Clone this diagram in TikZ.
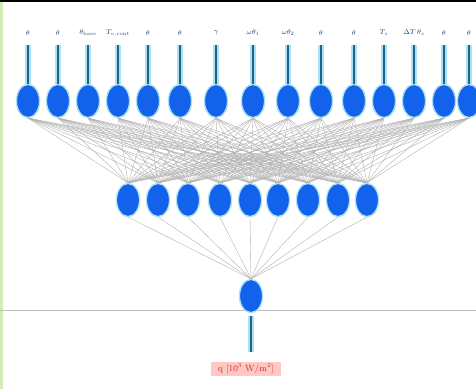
\documentclass[tikz,border=0pt]{standalone}
\usetikzlibrary{shapes.geometric}
\definecolor{nodeblue}{RGB}{18,98,235}
\definecolor{glow}{RGB}{170,225,245}
\definecolor{stem}{RGB}{30,100,140}
\definecolor{outred}{RGB}{210,40,40}
\definecolor{outbg}{RGB}{255,200,195}
\tikzset{
  neuron/.style={ellipse,fill=nodeblue,draw=glow,line width=1.2pt,minimum width=23pt,minimum height=33pt,inner sep=0pt},
  link/.style={draw=gray!60,line width=0.4pt},
  stemhalo/.style={draw=glow,line width=6pt},
  stemline/.style={draw=stem,line width=2.6pt},
  lbl/.style={font=\fontsize{7.5}{8}\selectfont,text=stem!70!black,inner sep=0.5pt}
}
\begin{document}
\begin{tikzpicture}[x=1pt,y=-1pt]
\useasboundingbox (0,0) rectangle (476,389);
\fill[white] (0,0) rectangle (476,389);
\fill[yellow!40!green!30] (0,0) rectangle (3,389);
\draw[black,line width=2pt] (0,1) -- (476,1);
% gray horizontal line
\coordinate (hl) at (0,310);
\coordinate (hr) at (476,310);
\draw[gray!50,line width=1pt] (hl) -- (hr);
% top layer
\foreach \i/\x/\t in {1/28/{$\theta$},2/58/{$\theta$},3/88/{$\theta_{\rm base}$},4/118/{$T_{c,\rm cont}$},5/148/{$\theta$},6/180/{$\theta$},7/216/{$\gamma$},8/253/{$\omega\theta_1$},9/288/{$\omega\theta_2$},10/321/{$\theta$},11/354/{$\theta$},12/384/{$T_s$},13/414/{$\Delta T\,\theta_s$},14/444/{$\theta$},15/469/{$\theta$}}{
  \node[neuron] (t\i) at (\x,101) {};
  \node[lbl] (l\i) at (\x,33) {\t};
  \coordinate (s\i) at (\x,45);
}
% middle layer
\foreach \j/\x in {1/128,2/158,3/188,4/220,5/250,6/278,7/308,8/338,9/367}{
  \node[neuron] (m\j) at (\x,200) {};
}
\node[neuron] (o) at (251,296) {};
% links
\foreach \i in {1,...,15}{
  \foreach \j in {1,...,9}{
    \draw[link] (t\i.south) -- (m\j.north);
  }
}
\foreach \j in {1,...,9}{
  \draw[link] (m\j.south) -- (o.north);
}
% input stems
\foreach \i in {1,...,15}{
  \draw[stemhalo] (s\i) -- (t\i.north);
  \draw[stemline] (s\i) -- (t\i.north);
}
% redraw neurons on top
\foreach \i/\x in {1/28,2/58,3/88,4/118,5/148,6/180,7/216,8/253,9/288,10/321,11/354,12/384,13/414,14/444,15/469}{
  \node[neuron] at (\x,101) {};
}
\foreach \j/\x in {1/128,2/158,3/188,4/220,5/250,6/278,7/308,8/338,9/367}{
  \node[neuron] at (\x,200) {};
}
\node[neuron] at (251,296) {};
% output
\node[fill=outbg,text=outred,font=\fontsize{9}{10}\selectfont,inner xsep=7pt,inner ysep=2.5pt] (q) at (246,369) {q [10$^3$ W/m$^2$]};
\coordinate (qs) at (251,316);
\coordinate (qe) at (251,352);
\draw[stemhalo] (qs) -- (qe);
\draw[stemline] (qs) -- (qe);
\end{tikzpicture}
\end{document}
